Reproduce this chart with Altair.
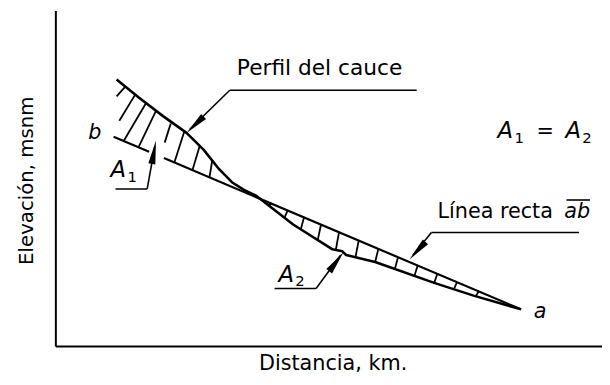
import altair as alt
import pandas as pd

# ---- data (diagram units: distance 0-100, elevation 0-100) ----
# Stream-bed profile (Perfil del cauce), from b to a
perfil_x = [11.2, 15.2, 19.7, 24.0, 27.1, 30.0, 32.3, 34.5, 36.8, 43.5, 50.7, 52.5, 53.2, 58.5, 69.3, 76.5, 85.2]
perfil_y = [79.4, 74.1, 68.5, 63.5, 58.5, 52.6, 48.8, 46.5, 44.7, 36.2, 28.8, 28.2, 27.1, 25.0, 18.8, 15.0, 10.9]

# Straight line ab (interrupted where the A1 arrow crosses it)
recta_x = [10.65, 17.15, 19.86, 85.2]
recta_y = [62.35, 57.9, 56.0, 10.9]
recta_tramo = [1, 1, 2, 2]

# Hatching of area A1 (profile point -> line point)
a1_x1 = [12.8, 14.6, 16.6, 18.4, 21.1, 23.6, 26.4, 28.7]
a1_y1 = [77.3, 74.9, 72.4, 70.1, 66.3, 64.0, 59.6, 55.3]
a1_x2 = [11.2, 11.7, 12.5, 15.2, 20.0, 21.8, 25.1, 28.2]
a1_y2 = [74.4, 67.1, 61.1, 59.2, 60.6, 54.8, 52.5, 50.3]

# Hatching of area A2 (line point -> profile point)
a2_x1 = [39.6, 42.5, 45.5, 48.6, 51.9, 55.5, 59.1, 62.7, 66.3, 69.9, 73.5, 77.5]
a2_y1 = [42.4, 40.4, 38.4, 36.2, 34.0, 31.5, 29.0, 26.5, 24.1, 21.6, 19.1, 16.4]
a2_x2 = [39.0, 41.9, 44.9, 48.0, 51.3, 54.9, 58.5, 62.1, 65.7, 69.3, 72.9, 76.9]
a2_y2 = [41.9, 38.2, 34.8, 31.6, 28.6, 26.4, 25.0, 22.9, 20.9, 18.8, 16.9, 14.8]

# Leader lines: Perfil, Línea recta, A1, A2 (shafts + underlines) and overline of ab
lead_x1 = [31.9, 31.9, 68.8, 68.8, 11.0, 16.8, 40.1, 47.7, 93.5]
lead_y1 = [76.2, 76.2, 33.8, 33.8, 46.8, 46.8, 17.1, 17.1, 43.5]
lead_x2 = [66.1, 24.6, 95.8, 65.4, 16.8, 18.2, 47.7, 52.2, 97.8]
lead_y2 = [76.2, 64.6, 33.8, 27.0, 46.8, 59.5, 17.1, 27.1, 43.5]

# Arrow heads (tip position, direction in degrees clockwise from up)
tip_x = [24.0, 64.8, 18.4, 52.7]
tip_y = [63.5, 25.8, 61.2, 27.9]
tip_ang = [226, 222, 10, 37]

# Labels
txt_norm = ["Perfil del cauce", "Línea recta"]
txt_norm_x = [33.2, 69.9]
txt_norm_y = [80.9, 38.2]
txt_norm_size = [22, 21]

txt_ital = ["ab", "a", "b"]
txt_ital_x = [93.1, 87.5, 6.0]
txt_ital_y = [38.2, 8.2, 61.8]

txt_A_x = [10.1, 40.8, 80.9, 93.3]
txt_A_y = [50.3, 19.1, 62.1, 62.1]
txt_sub = ["1", "2", "1", "2"]
txt_sub_x = [13.2, 43.9, 84.0, 96.4]
txt_sub_y = [48.8, 17.9, 60.6, 60.6]

eq_x = [89.6]
eq_y = [62.1]

FONT = "DejaVu Sans"

# ---- tables ----
perfil = pd.DataFrame({"x": perfil_x, "y": perfil_y, "o": range(len(perfil_x))})
recta = pd.DataFrame({"x": recta_x, "y": recta_y, "tramo": recta_tramo, "o": range(len(recta_x))})
hatch = pd.DataFrame({
    "x": a1_x1 + a2_x1, "y": a1_y1 + a2_y1,
    "x2": a1_x2 + a2_x2, "y2": a1_y2 + a2_y2,
})
leaders = pd.DataFrame({"x": lead_x1, "y": lead_y1, "x2": lead_x2, "y2": lead_y2})
tips = pd.DataFrame({"x": tip_x, "y": tip_y, "ang": tip_ang})
tnorm = pd.DataFrame({"t": txt_norm, "x": txt_norm_x, "y": txt_norm_y, "s": txt_norm_size})
tital = pd.DataFrame({"t": txt_ital, "x": txt_ital_x, "y": txt_ital_y})
tA = pd.DataFrame({"t": ["A"] * 4, "x": txt_A_x, "y": txt_A_y})
tsub = pd.DataFrame({"t": txt_sub, "x": txt_sub_x, "y": txt_sub_y})
teq = pd.DataFrame({"t": ["="], "x": eq_x, "y": eq_y})

xs = alt.Scale(domain=[0, 100], nice=False, zero=False)
ys = alt.Scale(domain=[0, 100], nice=False, zero=False)

X_AX = alt.Axis(title="Distancia, km.", ticks=False, labels=False, grid=False,
                domainColor="black", domainWidth=2,
                titleFont=FONT, titleFontSize=21, titleFontWeight="normal", titleColor="black",
                titleBaseline="alphabetic", titleAlign="center", titleX=281, titleY=24)
Y_AX = alt.Axis(title="Elevación, msnm", ticks=False, labels=False, grid=False,
                domainColor="black", domainWidth=2,
                titleFont=FONT, titleFontSize=20, titleFontWeight="normal", titleColor="black",
                titleAngle=270, titleBaseline="alphabetic", titleAlign="center", titleX=-23, titleY=172)


def X(f="x"):
    return alt.X(f + ":Q", scale=xs, axis=X_AX, title="Distancia, km.")


def Y(f="y"):
    return alt.Y(f + ":Q", scale=ys, axis=Y_AX, title="Elevación, msnm")


perfil_l = alt.Chart(perfil).mark_line(color="black", strokeWidth=2.6, strokeJoin="round").encode(
    x=X(), y=Y(), order="o:Q")

recta_l = alt.Chart(recta).mark_line(color="black", strokeWidth=2.2).encode(
    x=X(), y=Y(), detail="tramo:N", order="o:Q")

hatch_l = alt.Chart(hatch).mark_rule(color="black", strokeWidth=1.8).encode(
    x=X(), y=Y(), x2="x2:Q", y2="y2:Q")

lead_l = alt.Chart(leaders).mark_rule(color="black", strokeWidth=1.6).encode(
    x=X(), y=Y(), x2="x2:Q", y2="y2:Q")

tips_l = alt.Chart(tips).mark_point(
    shape="M0,0L0.3,2L-0.3,2Z", filled=True, color="black", size=576, opacity=1, strokeWidth=0
).encode(x=X(), y=Y(), angle=alt.Angle("ang:Q", scale=None))

tnorm_l = alt.Chart(tnorm).mark_text(font=FONT, align="left", baseline="alphabetic", color="black").encode(
    x=X(), y=Y(), text="t:N", size=alt.Size("s:Q", scale=None))

tital_l = alt.Chart(tital).mark_text(font=FONT, fontSize=21, fontStyle="italic", align="left",
                                     baseline="alphabetic", color="black").encode(
    x=X(), y=Y(), text="t:N")

tA_l = alt.Chart(tA).mark_text(font=FONT, fontSize=23, fontStyle="italic", align="left",
                               baseline="alphabetic", color="black").encode(
    x=X(), y=Y(), text="t:N")

tsub_l = alt.Chart(tsub).mark_text(font=FONT, fontSize=15, align="left",
                                   baseline="alphabetic", color="black").encode(
    x=X(), y=Y(), text="t:N")

teq_l = alt.Chart(teq).mark_text(font=FONT, fontSize=21, align="center",
                                 baseline="alphabetic", color="black").encode(
    x=X(), y=Y(), text="t:N")

chart = alt.layer(
    perfil_l, recta_l, hatch_l, lead_l, tips_l, tnorm_l, tital_l, tA_l, tsub_l, teq_l
).properties(
    width=554, height=340,
    padding={"left": 48, "top": 0, "right": 0, "bottom": 29},
    autosize=alt.AutoSizeParams(type="none"),
    background="white",
).configure_view(stroke=None)

chart.save("out.html", embed_options={"renderer": "svg", "actions": False})
